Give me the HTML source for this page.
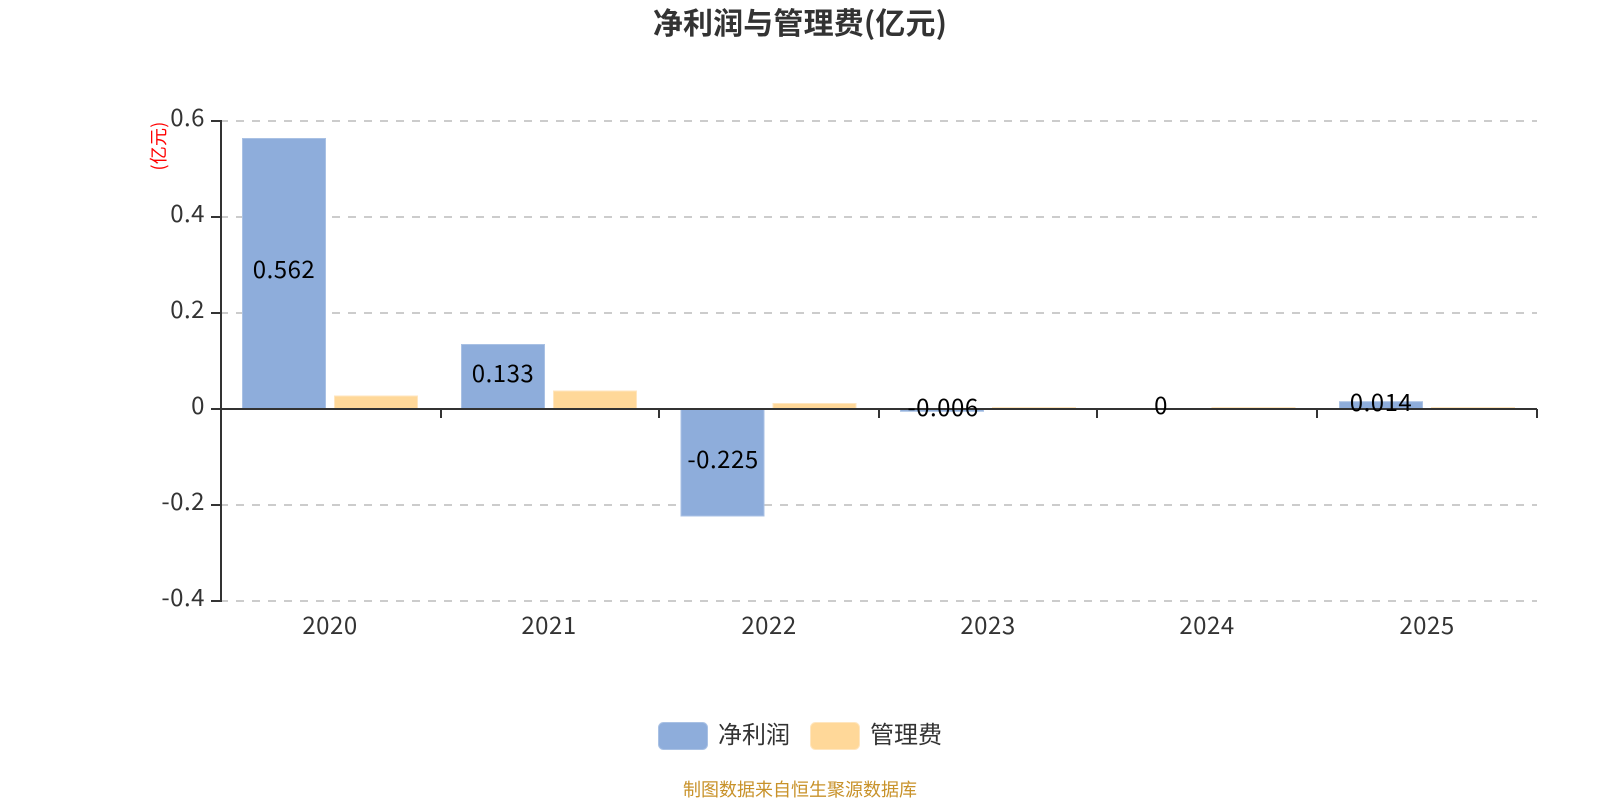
<!DOCTYPE html>
<html><head><meta charset="utf-8"><style>
html,body{margin:0;padding:0;background:#fff}
svg{display:block}
text{font-family:"Liberation Sans","Noto Sans CJK SC",sans-serif}
.n{font-family:"Noto Sans CJK SC",sans-serif}
.d{letter-spacing:.5px}
</style></head><body>
<svg width="1600" height="800" viewBox="0 0 1600 800" xmlns="http://www.w3.org/2000/svg">
<rect width="1600" height="800" fill="#fff"/>
<text class="n" x="800" y="34" font-size="30" font-weight="700" fill="#333" text-anchor="middle" style="letter-spacing:.15px">净利润与管理费(亿元)</text>
<g stroke="#ccc" stroke-width="2" stroke-dasharray="8 8">
<path d="M220 121H1537M220 217H1537M220 313H1537M220 505H1537M220 601H1537"/>
</g>
<g fill="#8eaddb" stroke="#a9c1e4" stroke-width="1">
<rect x="242.5" y="138.5" width="83" height="270"/>
<rect x="461.5" y="344.5" width="83" height="64"/>
<rect x="681" y="408.5" width="83" height="107.5"/>
<rect x="900.5" y="408.5" width="83" height="2.8"/>
<rect x="1339.5" y="401.7" width="83" height="6.8"/>
</g>
<g fill="#ffd899" stroke="#ffe6bf" stroke-width="1">
<rect x="334.5" y="396" width="83" height="12.5"/>
<rect x="553.5" y="391" width="83" height="17.5"/>
<rect x="773" y="403.5" width="83" height="5"/>
<rect x="992.5" y="407.5" width="83" height="1"/>
<rect x="1212" y="407.5" width="83" height="1"/>
<rect x="1431.5" y="407.5" width="83" height="1"/>
</g>
<g stroke="#333" stroke-width="2" fill="none">
<path d="M221 120V602M211 121H221M211 217H221M211 313H221M211 409H221M211 505H221M211 601H221"/>
<path d="M211 409H1537M441 409V418M659 409V418M879 409V418M1097 409V418M1317 409V418M1537 409V418"/>
</g>
<g font-size="24" fill="#333" text-anchor="end">
<text class="n d" x="205" y="126">0.6</text>
<text class="n d" x="205" y="222">0.4</text>
<text class="n d" x="205" y="318">0.2</text>
<text class="n d" x="205" y="414">0</text>
<text class="n d" x="205" y="510">-0.2</text>
<text class="n d" x="205" y="606">-0.4</text>
</g>
<g font-size="24" fill="#333" text-anchor="middle">
<text class="n d" x="330" y="634">2020</text>
<text class="n d" x="549" y="634">2021</text>
<text class="n d" x="769" y="634">2022</text>
<text class="n d" x="988" y="634">2023</text>
<text class="n d" x="1207" y="634">2024</text>
<text class="n d" x="1427" y="634">2025</text>
</g>
<g font-size="24" fill="#000" text-anchor="middle">
<text class="n d" x="284" y="278">0.562</text>
<text class="n d" x="503" y="382">0.133</text>
<text class="n d" x="723" y="468">-0.225</text>
<text class="n d" x="943" y="416">-0.006</text>
<text class="n d" x="1161" y="414">0</text>
<text class="n d" x="1381" y="411">0.014</text>
</g>
<text class="n" transform="translate(165,146) rotate(-90)" font-size="18" fill="#f00" text-anchor="middle" style="letter-spacing:.2px">(亿元)</text>
<rect x="658.5" y="722.5" width="49" height="27" rx="5" fill="#8eaddb" stroke="#a9c1e4"/>
<text class="n" x="718" y="743" font-size="24" fill="#333">净利润</text>
<rect x="810.5" y="722.5" width="49" height="27" rx="5" fill="#ffd899" stroke="#ffe6bf"/>
<text class="n" x="870" y="743" font-size="24" fill="#333">管理费</text>
<text class="n" x="800" y="796" font-size="18" fill="#c8922a" text-anchor="middle">制图数据来自恒生聚源数据库</text>
</svg>
</body></html>
